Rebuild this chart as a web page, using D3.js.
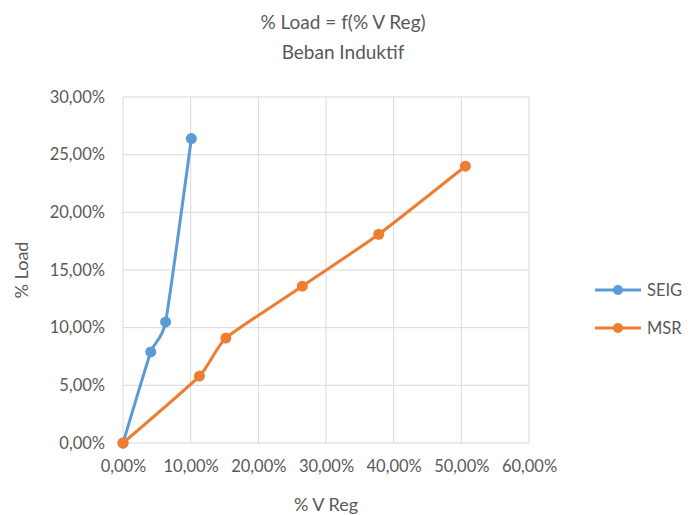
<!DOCTYPE html>
<html>
<head>
<meta charset="utf-8">
<script src="https://cdn.jsdelivr.net/npm/d3@7"></script>
<style>
  body { margin: 0; background: #fff; }
  text { font-family: Lato, "Open Sans", sans-serif; fill: #595959; }
</style>
</head>
<body>
<div id="chart-area"></div>
<script>
const W = 700, H = 515
const MARGIN = { LEFT: 123, RIGHT: 171, TOP: 97, BOTTOM: 72 }

// data (percent)
const seigX = [0, 4.1, 6.3, 10.1]
const seigY = [0, 7.9, 10.5, 26.4]
const msrX = [0, 11.3, 15.2, 26.5, 37.8, 50.6]
const msrY = [0, 5.8, 9.1, 13.6, 18.1, 24.0]
const xTicks = [0, 10, 20, 30, 40, 50, 60]
const yTicks = [0, 5, 10, 15, 20, 25, 30]
const seriesNames = ["SEIG", "MSR"]
const colors = ["#5b9bd5", "#ed7d31"]

const series = [
  seigX.map((v, i) => ({ x: v, y: seigY[i] })),
  msrX.map((v, i) => ({ x: v, y: msrY[i] }))
]

const fmt = v => v.toFixed(2).replace(".", ",") + "%"

const x = d3.scaleLinear().domain([0, 60]).range([MARGIN.LEFT, W - MARGIN.RIGHT])
const y = d3.scaleLinear().domain([0, 30]).range([H - MARGIN.BOTTOM, MARGIN.TOP])

const svg = d3.select("#chart-area").append("svg")
  .attr("width", W)
  .attr("height", H)

// grid
svg.append("g")
  .selectAll("line")
  .data(xTicks)
  .join("line")
    .attr("x1", d => x(d)).attr("x2", d => x(d))
    .attr("y1", y(0)).attr("y2", y(30))
    .attr("stroke", "#d9d9d9").attr("stroke-width", 1)

svg.append("g")
  .selectAll("line")
  .data(yTicks)
  .join("line")
    .attr("x1", x(0)).attr("x2", x(60))
    .attr("y1", d => y(d)).attr("y2", d => y(d))
    .attr("stroke", "#d9d9d9").attr("stroke-width", 1)

// axes (labels only)
svg.append("g")
  .attr("transform", `translate(0,${y(0)})`)
  .call(d3.axisBottom(x).tickValues(xTicks).tickFormat(fmt).tickSize(0).tickPadding(17))
  .call(g => g.select(".domain").remove())
  .call(g => g.selectAll("text").style("font-size", "16.5px").attr("fill", "#595959")
      .style("font-family", "Lato, 'Open Sans', sans-serif"))

svg.append("g")
  .attr("transform", `translate(${x(0)},0)`)
  .call(d3.axisLeft(y).tickValues(yTicks).tickFormat(fmt).tickSize(0).tickPadding(18))
  .call(g => g.select(".domain").remove())
  .call(g => g.selectAll("text").style("font-size", "16.5px").attr("fill", "#595959")
      .style("font-family", "Lato, 'Open Sans', sans-serif"))

const line = d3.line()
  .x(d => x(d.x))
  .y(d => y(d.y))
  .curve(d3.curveCardinal.tension(0.5))

series.forEach((s, i) => {
  svg.append("path")
    .attr("fill", "none")
    .attr("stroke", colors[i])
    .attr("stroke-width", 3)
    .attr("stroke-linecap", "round")
    .attr("d", line(s))
  svg.append("g")
    .selectAll("circle")
    .data(s)
    .join("circle")
      .attr("cx", d => x(d.x))
      .attr("cy", d => y(d.y))
      .attr("r", 5.5)
      .attr("fill", colors[i])
})

// titles
svg.append("text")
  .attr("x", 343).attr("y", 29)
  .attr("text-anchor", "middle")
  .style("font-size", "19px")
  .text("% Load = f(% V Reg)")
svg.append("text")
  .attr("x", 343).attr("y", 59)
  .attr("text-anchor", "middle")
  .style("font-size", "19px")
  .text("Beban Induktif")

svg.append("text")
  .attr("x", 326).attr("y", 511)
  .attr("text-anchor", "middle")
  .style("font-size", "18px")
  .text("% V Reg")

svg.append("text")
  .attr("transform", `translate(28,${(y(0) + y(30)) / 2}) rotate(-90)`)
  .attr("text-anchor", "middle")
  .style("font-size", "18px")
  .text("% Load")

// legend
const legend = svg.append("g")
  .selectAll("g")
  .data(seriesNames)
  .join("g")
    .attr("transform", (d, i) => `translate(595,${290 + i * 38})`)

legend.append("line")
  .attr("x1", 0).attr("x2", 46)
  .attr("stroke", (d, i) => colors[i])
  .attr("stroke-width", 3)
legend.append("circle")
  .attr("cx", 23).attr("r", 5)
  .attr("fill", (d, i) => colors[i])
legend.append("text")
  .attr("x", 52).attr("dy", "0.35em")
  .style("font-size", "16.5px")
  .text(d => d)
</script>
</body>
</html>
